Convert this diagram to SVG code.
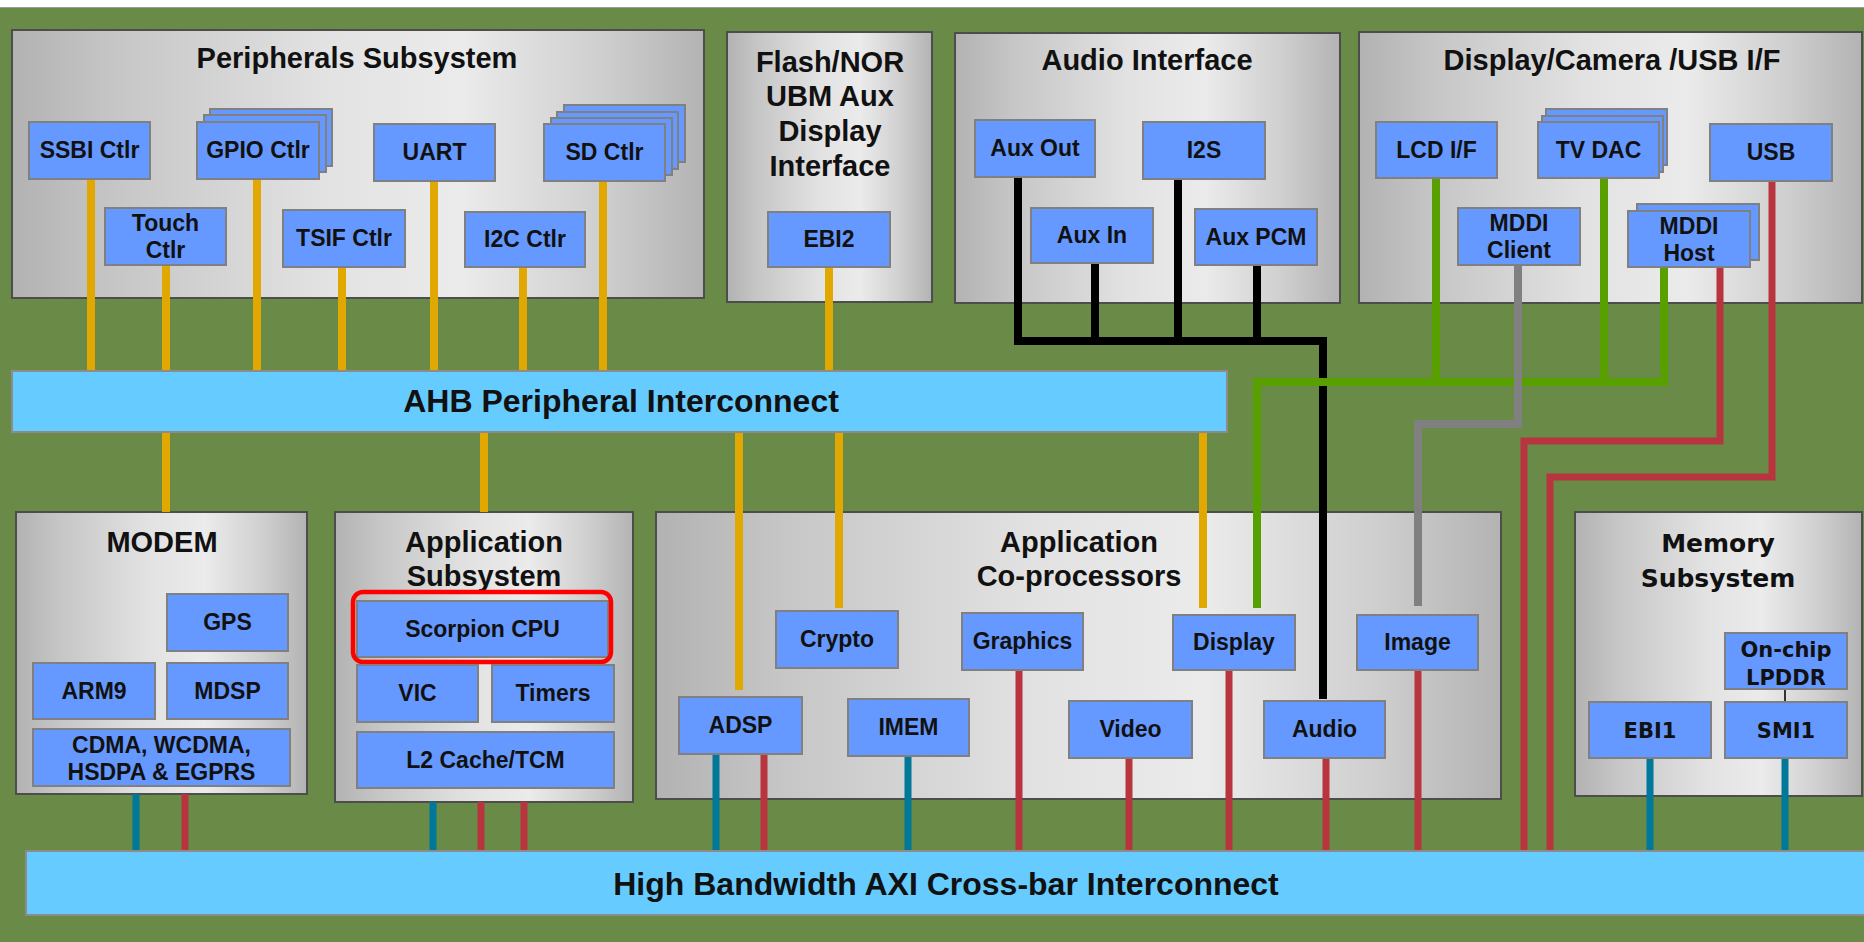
<svg xmlns="http://www.w3.org/2000/svg" width="1864" height="942" viewBox="0 0 1864 942">
<defs>
<linearGradient id="gbox" x1="0" y1="0" x2="1" y2="0">
<stop offset="0" stop-color="#B2B2B2"/>
<stop offset="0.15" stop-color="#C6C6C6"/>
<stop offset="0.45" stop-color="#E2E2E2"/>
<stop offset="0.65" stop-color="#EBEBEB"/>
<stop offset="0.85" stop-color="#CFCFCF"/>
<stop offset="1" stop-color="#B3B3B3"/>
</linearGradient>
<style>
.box{fill:url(#gbox);stroke:#4D4D4D;stroke-width:2}
.n{fill:#6699FF;stroke:#808080;stroke-width:2}
.bar{fill:#66CCFF;stroke:#8C8C8C;stroke-width:2}
.t{font-family:"Liberation Sans",Arial,sans-serif;font-weight:bold;text-anchor:middle;fill:#111}
.tt{font-size:29px}
.tn{font-size:23px}
.tb{font-size:32px}
.dv{font-family:"DejaVu Sans",Verdana,sans-serif}
.tm{font-size:21px}
.hl{fill:none;stroke:#FF0000;stroke-width:4.5}
.w{fill:none;stroke-linejoin:miter}
.o{stroke:#E0A800;stroke-width:8}
.k{stroke:#000;stroke-width:8}
.gr{stroke:#58A000;stroke-width:8}
.gy{stroke:#808080;stroke-width:8}
.r{stroke:#B8343F;stroke-width:7}
.c{stroke:#00789A;stroke-width:7}
.thin{stroke:#333;stroke-width:2}
</style>
</defs>
<rect x="0" y="0" width="1864" height="942" fill="#6A8B47"/>
<rect x="0" y="0" width="1864" height="7" fill="#FFFFFF"/>
<line x1="0" y1="7.5" x2="1864" y2="7.5" stroke="#9A9A9A" stroke-width="1"/>

<!-- containers -->
<g id="peripherals-subsystem">
<rect class="box" x="12" y="30" width="692" height="268"/>
<text class="t tt" x="357" y="68">Peripherals Subsystem</text>
</g>
<g id="flash-nor">
<rect class="box" x="727" y="32" width="205" height="270"/>
<text class="t tt" x="830" y="72">Flash/NOR</text>
<text class="t tt" x="830" y="106">UBM Aux</text>
<text class="t tt" x="830" y="141">Display</text>
<text class="t tt" x="830" y="176">Interface</text>
</g>
<g id="audio-interface">
<rect class="box" x="955" y="33" width="385" height="270"/>
<text class="t tt" x="1147" y="70">Audio Interface</text>
</g>
<g id="display-camera-usb">
<rect class="box" x="1359" y="32" width="503" height="271"/>
<text class="t tt" x="1612" y="70">Display/Camera /USB I/F</text>
</g>
<g id="modem">
<rect class="box" x="16" y="512" width="291" height="282"/>
<text class="t tt" x="162" y="552">MODEM</text>
</g>
<g id="application-subsystem">
<rect class="box" x="335" y="512" width="298" height="290"/>
<text class="t tt" x="484" y="552">Application</text>
<text class="t tt" x="484" y="586">Subsystem</text>
</g>
<g id="application-coprocessors">
<rect class="box" x="656" y="512" width="845" height="287"/>
<text class="t tt" x="1079" y="552">Application</text>
<text class="t tt" x="1079" y="586">Co-processors</text>
</g>
<g id="memory-subsystem">
<rect class="box" x="1575" y="512" width="287" height="284"/>
<text class="t dv" style="font-size:25px" x="1718" y="552">Memory</text>
<text class="t dv" style="font-size:25px" x="1718" y="587">Subsystem</text>
</g>

<!-- connectors -->
<g id="connectors" class="w">
<path class="o" d="M91 179V371M166 265V371M257 179V371M342 267V371M434 181V371M523 267V371M603 181V371"/>
<path class="o" d="M829 267V371"/>
<path class="o" d="M166 432V512M484 432V512M739 432V690M839 432V608M1203 432V608"/>
<path class="k" d="M1018 177V341H1323V699M1095 263V341M1178 179V341M1257 265V341"/>
<path class="gr" d="M1436 178V382M1604 178V382M1664 267V382H1257V608"/>
<path class="gy" d="M1518 265V424H1418V606"/>
<path class="r" d="M1720 267V441H1524V851M1772 181V477H1550V851"/>
<path class="c" d="M136 794V851M433 802V851M716 754V851M908 756V851M1650 758V851M1785 758V851"/>
<path class="r" d="M185 794V851M481 802V851M524 802V851M764 754V851M1019 670V851M1129 758V851M1229 670V851M1326 758V851M1418 670V851"/>
<path class="thin" d="M1785 689V702"/>
</g>

<!-- bars -->
<g id="ahb-peripheral-interconnect">
<rect class="bar" x="12" y="371" width="1215" height="61"/>
<text class="t tb" x="621" y="412">AHB Peripheral Interconnect</text>
</g>
<g id="axi-crossbar-interconnect">
<rect class="bar" x="26" y="851" width="1850" height="64"/>
<text class="t tb" x="946" y="895">High Bandwidth AXI Cross-bar Interconnect</text>
</g>

<!-- peripherals nodes -->
<g id="ssbi-ctlr"><rect class="n" x="29" y="122" width="121" height="57"/><text class="t tn" x="89.5" y="158">SSBI Ctlr</text></g>
<g id="gpio-ctlr">
<rect class="n" x="210" y="109" width="122" height="57"/>
<rect class="n" x="204" y="115" width="122" height="57"/>
<rect class="n" x="197" y="122" width="122" height="57"/>
<text class="t tn" x="258" y="158">GPIO Ctlr</text></g>
<g id="uart"><rect class="n" x="374" y="124" width="121" height="57"/><text class="t tn" x="434.5" y="160">UART</text></g>
<g id="sd-ctlr">
<rect class="n" x="564" y="105" width="121" height="57"/>
<rect class="n" x="557" y="112" width="121" height="57"/>
<rect class="n" x="551" y="118" width="121" height="57"/>
<rect class="n" x="544" y="124" width="121" height="57"/>
<text class="t tn" x="604.5" y="160">SD Ctlr</text></g>
<g id="touch-ctlr"><rect class="n" x="105" y="208" width="121" height="57"/><text class="t tn" x="165.5" y="231">Touch</text><text class="t tn" x="165.5" y="258">Ctlr</text></g>
<g id="tsif-ctlr"><rect class="n" x="283" y="210" width="122" height="57"/><text class="t tn" x="344" y="246">TSIF Ctlr</text></g>
<g id="i2c-ctlr"><rect class="n" x="465" y="212" width="120" height="55"/><text class="t tn" x="525" y="247">I2C Ctlr</text></g>
<g id="ebi2"><rect class="n" x="768" y="212" width="122" height="55"/><text class="t tn" x="829" y="247">EBI2</text></g>

<!-- audio nodes -->
<g id="aux-out"><rect class="n" x="975" y="120" width="120" height="57"/><text class="t tn" x="1035" y="156">Aux Out</text></g>
<g id="i2s"><rect class="n" x="1143" y="122" width="122" height="57"/><text class="t tn" x="1204" y="158">I2S</text></g>
<g id="aux-in"><rect class="n" x="1031" y="208" width="122" height="55"/><text class="t tn" x="1092" y="243">Aux In</text></g>
<g id="aux-pcm"><rect class="n" x="1195" y="209" width="122" height="56"/><text class="t tn" x="1256" y="245">Aux PCM</text></g>

<!-- display/camera/usb nodes -->
<g id="lcd-if"><rect class="n" x="1376" y="122" width="121" height="56"/><text class="t tn" x="1436.5" y="158">LCD I/F</text></g>
<g id="tv-dac">
<rect class="n" x="1546" y="109" width="121" height="56"/>
<rect class="n" x="1542" y="116" width="121" height="56"/>
<rect class="n" x="1538" y="122" width="121" height="56"/>
<text class="t tn" x="1598.5" y="158">TV DAC</text></g>
<g id="usb"><rect class="n" x="1710" y="124" width="122" height="57"/><text class="t tn" x="1771" y="160">USB</text></g>
<g id="mddi-client"><rect class="n" x="1458" y="208" width="122" height="57"/><text class="t tn" x="1519" y="231">MDDI</text><text class="t tn" x="1519" y="258">Client</text></g>
<g id="mddi-host">
<rect class="n" x="1637" y="204" width="122" height="56"/>
<rect class="n" x="1628" y="211" width="122" height="56"/>
<text class="t tn" x="1689" y="234">MDDI</text><text class="t tn" x="1689" y="261">Host</text></g>

<!-- modem nodes -->
<g id="gps"><rect class="n" x="167" y="594" width="121" height="57"/><text class="t tn" x="227.5" y="630">GPS</text></g>
<g id="arm9"><rect class="n" x="33" y="663" width="122" height="56"/><text class="t tn" x="94" y="699">ARM9</text></g>
<g id="mdsp"><rect class="n" x="167" y="663" width="121" height="56"/><text class="t tn" x="227.5" y="699">MDSP</text></g>
<g id="cdma"><rect class="n" x="33" y="729" width="257" height="57"/><text class="t tn" x="161.5" y="753">CDMA, WCDMA,</text><text class="t tn" x="161.5" y="780">HSDPA &amp; EGPRS</text></g>

<!-- application subsystem nodes -->
<g id="scorpion-cpu"><rect class="n" x="357" y="601" width="251" height="56"/><text class="t tn" x="482.5" y="637">Scorpion CPU</text>
<rect class="hl" x="353" y="592" width="258" height="70" rx="10"/></g>
<g id="vic"><rect class="n" x="357" y="665" width="121" height="57"/><text class="t tn" x="417.5" y="701">VIC</text></g>
<g id="timers"><rect class="n" x="492" y="665" width="122" height="57"/><text class="t tn" x="553" y="701">Timers</text></g>
<g id="l2-cache-tcm"><rect class="n" x="357" y="732" width="257" height="56"/><text class="t tn" x="485.5" y="768">L2 Cache/TCM</text></g>

<!-- coprocessor nodes -->
<g id="crypto"><rect class="n" x="776" y="611" width="122" height="57"/><text class="t tn" x="837" y="647">Crypto</text></g>
<g id="graphics"><rect class="n" x="962" y="613" width="121" height="57"/><text class="t tn" x="1022.5" y="649">Graphics</text></g>
<g id="display"><rect class="n" x="1173" y="615" width="122" height="55"/><text class="t tn" x="1234" y="650">Display</text></g>
<g id="image"><rect class="n" x="1357" y="615" width="121" height="55"/><text class="t tn" x="1417.5" y="650">Image</text></g>
<g id="adsp"><rect class="n" x="679" y="697" width="123" height="57"/><text class="t tn" x="740.5" y="733">ADSP</text></g>
<g id="imem"><rect class="n" x="848" y="699" width="121" height="57"/><text class="t tn" x="908.5" y="735">IMEM</text></g>
<g id="video"><rect class="n" x="1069" y="701" width="123" height="57"/><text class="t tn" x="1130.5" y="737">Video</text></g>
<g id="audio"><rect class="n" x="1264" y="701" width="121" height="57"/><text class="t tn" x="1324.5" y="737">Audio</text></g>

<!-- memory nodes -->
<g id="on-chip-lpddr"><rect class="n" x="1725" y="633" width="122" height="56"/><text class="t dv tm" x="1786" y="657">On-chip</text><text class="t dv tm" x="1786" y="685">LPDDR</text></g>
<g id="ebi1"><rect class="n" x="1589" y="702" width="122" height="56"/><text class="t dv tm" x="1650" y="738">EBI1</text></g>
<g id="smi1"><rect class="n" x="1725" y="702" width="122" height="56"/><text class="t dv tm" x="1786" y="738">SMI1</text></g>
</svg>
